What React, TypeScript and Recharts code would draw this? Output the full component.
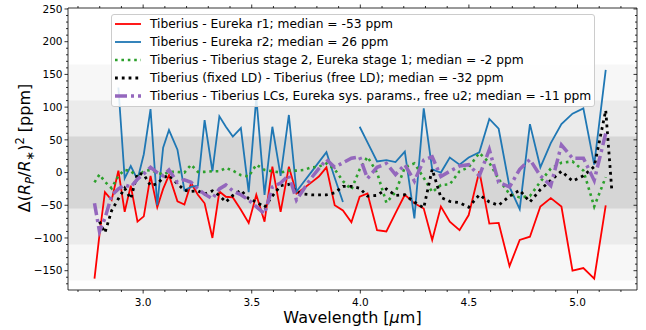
import React from 'react';
import { LineChart, Line, XAxis, YAxis, ReferenceArea, Legend } from 'recharts';

// spectral bins, µm
const WAVELENGTH = [
  2.776, 2.799, 2.824, 2.855, 2.886, 2.915, 2.943, 2.974, 3.003, 3.034,
  3.065, 3.092, 3.119, 3.158, 3.19, 3.221, 3.252, 3.283, 3.319, 3.351,
  3.381, 3.413, 3.45, 3.486, 3.521, 3.559, 3.595, 3.633, 3.671, 3.706,
  3.74, 3.775, 3.809, 3.844, 3.882, 3.92, 3.959, 3.997, 4.033, 4.077,
  4.12, 4.162, 4.205, 4.249, 4.292, 4.331, 4.371, 4.412, 4.457, 4.499,
  4.548, 4.594, 4.637, 4.687, 4.734, 4.781, 4.829, 4.877, 4.926, 4.977,
  5.027, 5.077, 5.13,
];
// the fixed-LD comparison runs one bin further
const WAVELENGTH_LD = [...WAVELENGTH, 5.158];

// differences in ppm
const EUREKA_R1 = [
  -162, -95, -30, -42, 3, -60, -20, -75, -67, -5,
  -53, -25, -4, -44, -49, -16, -34, -47, -100, -29,
  -37, -38, -57, -77, -34, -75, 9, -60, 9, -32,
  -24, -15, -6, 8, -50, -58, -76, -37, -32, -88,
  -90, -62, -34, -47, -55, -103, -52, -75, -88, -65,
  2, -78, -77, -143, -103, -98, -52, -39, -52, -150,
  -146, -162, -50,
];
const EUREKA_R2 = [
  null, null, null, null, 130, -9, 10, -11, 28, 97,
  -50, 38, 65, 35, -27, -22, -20, 80, 2, 86,
  70, 55, 68, -30, 115, -34, 70, -5, 88, -29,
  -14, 1, 16, 31, -8, -45, null, 70, 46, 17,
  19, 16, 32, -70, 98, 5, 0, 23, 12, 23,
  31, 82, 67, -22, -56, 74, 8, 45, 74, 90,
  98, 12, 157,
];
const STAGE2 = [
  -15, -3, -14, -24, -5, 4, 2, -6, 2, 4,
  0, -3, 1, 1, 0, 12, 1, 1, 2, 2,
  7, 3, -4, -6, 12, 4, 2, 0, 3, 3,
  4, 8, 9, 14, 5, -13, -26, 5, 24, 0,
  -46, -30, 8, 14, -8, -30, -19, -18, 2, 8,
  30, 15, -10, -33, -38, -36, -14, 6, 15, 17,
  3, -52, -7,
];
const FIXED_LD = [
  null, -75, -92, -58, -40, -24, -40, -1, -3, -20,
  -17, -8, -4, -17, -27, -29, -28, -33, -28, -35,
  -45, -35, -27, -40, -45, -53, -36, -20, -18, -29,
  -33, -34, -34, -34, -31, -21, -21, -24, -36, -35,
  -25, -35, -34, -45, -54, 5, -38, -44, -46, -53,
  -34, -45, -50, -36, -27, -45, -26, -12, 2, -13,
  -5, 9, 95, -27,
];
const FREE_U2 = [
  -47, -90, -70, -35, -25, -19, -22, -10, -2, 8,
  0, -5, 4, -15, -11, -15, -25, -33, -40, -25,
  -19, -28, -34, -42, -52, -63, -22, -16, -4, -42,
  -25, -8, 6, 20, 8, 15, 22, 24, -9, 8,
  14, -3, 12, -13, 19, 24, -6, 2, 10, 12,
  -5, 35, -15, -22, 5, 20, -5, -20, 42, 22,
  22, -12, 60,
];

const SERIES_NAMES = [
  'Tiberius - Eureka r1; median = -53 ppm',
  'Tiberius - Eureka r2; median = 26 ppm',
  'Tiberius - Tiberius stage 2, Eureka stage 1; median = -2 ppm',
  'Tiberius (fixed LD) - Tiberius (free LD); median = -32 ppm',
  'Tiberius - Tiberius LCs, Eureka sys. params., free u2; median = -11 ppm',
];

const X_TICKS = [2.7, 2.8, 2.9, 3.0, 3.1, 3.2, 3.3, 3.4, 3.5, 3.6, 3.7, 3.8, 3.9, 4.0, 4.1, 4.2, 4.3, 4.4, 4.5, 4.6, 4.7, 4.8, 4.9, 5.0, 5.1, 5.2];
const X_MAJOR = [3.0, 3.5, 4.0, 4.5, 5.0];
const Y_TICKS = [
  -170, -160, -150, -140, -130, -120, -110, -100, -90, -80, -70, -60, -50, -40, -30, -20, -10, 0,
  10, 20, 30, 40, 50, 60, 70, 80, 90, 100, 110, 120, 130, 140, 150, 160, 170, 180, 190, 200,
  210, 220, 230, 240, 250,
];
const Y_MAJOR = [-150, -100, -50, 0, 50, 100, 150, 200, 250];

// shaded scatter levels, widest first
const BAND_LEVELS = [165, 110, 55];
const BAND_FILLS = ['#f7f7f7', '#ebebeb', '#d6d6d6'];

const FONT = '"DejaVu Sans", sans-serif';
const X_DOMAIN: [number, number] = [2.654, 5.274];
const Y_DOMAIN: [number, number] = [-179.5, 251.5];

const pairs = (xs: number[], ys: (number | null)[]) => xs.map((x, i) => ({ x, y: ys[i] }));

const SERIES = [
  { name: SERIES_NAMES[0], data: pairs(WAVELENGTH, EUREKA_R1), color: '#ff0000', width: 1.8, dash: undefined },
  { name: SERIES_NAMES[1], data: pairs(WAVELENGTH, EUREKA_R2), color: '#1f77b4', width: 1.8, dash: undefined },
  { name: SERIES_NAMES[2], data: pairs(WAVELENGTH, STAGE2), color: '#2ca02c', width: 2.6, dash: '2.6 3.8' },
  { name: SERIES_NAMES[3], data: pairs(WAVELENGTH_LD, FIXED_LD), color: '#000000', width: 2.8, dash: '2.8 4' },
  { name: SERIES_NAMES[4], data: pairs(WAVELENGTH, FREE_U2), color: '#9467bd', width: 3.5, dash: '12 4 3 4' },
];

const minus = (v: number) => (v < 0 ? '\u2212' + Math.abs(v) : String(v));
const isMajor = (v: number, majors: number[]) => majors.some((m) => Math.abs(m - v) < 1e-6);

// tick line + optional label, drawn by hand so minor ticks can be shorter
function Tick(props: any) {
  const { x, y, payload, side, majors, labelled } = props;
  const v = payload.value;
  const major = isMajor(v, majors);
  const len = major ? 3.5 : 2;
  const st = { stroke: '#000', strokeWidth: 0.8 };
  if (side === 'bottom') {
    return (
      <g>
        <line x1={x} y1={y} x2={x} y2={y + len} {...st} />
        {labelled && major && (
          <text x={x} y={y + 16} textAnchor="middle" fontSize={10.5} fontFamily={FONT} fill="#000">
            {v.toFixed(1)}
          </text>
        )}
      </g>
    );
  }
  if (side === 'top') return <line x1={x} y1={y} x2={x} y2={y - len} {...st} />;
  // right-hand ticks point into the plot
  if (side === 'right') return <line x1={x} y1={y} x2={x - len} y2={y} {...st} />;
  return (
    <g>
      <line x1={x} y1={y} x2={x - len} y2={y} {...st} />
      {labelled && major && (
        <text x={x - 5.5} y={y + 3.8} textAnchor="end" fontSize={10.5} fontFamily={FONT} fill="#000">
          {minus(v)}
        </text>
      )}
    </g>
  );
}

function XTitle() {
  return (
    <text x={352.5} y={323} textAnchor="middle" fontSize={16} fontFamily={FONT} fill="#000">
      Wavelength [<tspan fontStyle="italic">μ</tspan>m]
    </text>
  );
}

function YTitle() {
  return (
    <text transform="translate(30,148) rotate(-90)" textAnchor="middle" fontSize={16} fontFamily={FONT} fill="#000">
      Δ(<tspan fontStyle="italic">R</tspan>
      <tspan fontStyle="italic" fontSize={11.5} dy={3.5}>P</tspan>
      <tspan dy={-3.5}>/</tspan>
      <tspan fontStyle="italic">R</tspan>
      <tspan fontSize={11.5} dy={3.5}>∗</tspan>
      <tspan dy={-3.5}>)</tspan>
      <tspan fontSize={11.5} dy={-6}>2</tspan>
      <tspan dy={6}> [ppm]</tspan>
    </text>
  );
}

function LegendBox() {
  return (
    <div
      style={{
        width: 484,
        height: 93,
        boxSizing: 'border-box',
        border: '1px solid #cccccc',
        borderRadius: 3,
        background: 'rgba(255,255,255,0.85)',
        position: 'relative',
        fontFamily: FONT,
        fontSize: 12.25,
        color: '#000',
      }}
    >
      {SERIES.map((s, i) => (
        <div key={s.name} style={{ position: 'absolute', left: 0, top: i * 18, height: 18, width: 480 }}>
          <svg width={28} height={18} style={{ position: 'absolute', left: 3, top: 0 }}>
            <line x1={0} y1={9} x2={26} y2={9} stroke={s.color} strokeWidth={s.width} strokeDasharray={s.dash} />
          </svg>
          <span style={{ position: 'absolute', left: 38, top: 0, lineHeight: '18px', whiteSpace: 'nowrap' }}>{s.name}</span>
        </div>
      ))}
    </div>
  );
}

export default function App() {
  const axisLine = { stroke: '#000', strokeWidth: 0.8 };
  return (
    <div style={{ position: 'absolute', left: 0, top: 0, width: 646, height: 330, background: '#fff' }}>
      <LineChart width={646} height={330} margin={{ top: 2, right: 3, bottom: 10, left: 8 }}>
        <XAxis
          dataKey="x"
          type="number"
          domain={X_DOMAIN}
          allowDataOverflow
          ticks={X_TICKS}
          interval={0}
          height={30}
          tickSize={0}
          tickMargin={0}
          tickLine={false}
          axisLine={axisLine}
          tick={<Tick side="bottom" majors={X_MAJOR} labelled />}
          label={<XTitle />}
        />
        <XAxis
          xAxisId="top"
          orientation="top"
          dataKey="x"
          type="number"
          domain={X_DOMAIN}
          allowDataOverflow
          ticks={X_TICKS}
          interval={0}
          height={6}
          tickSize={0}
          tickMargin={0}
          tickLine={false}
          axisLine={axisLine}
          tick={<Tick side="top" majors={X_MAJOR} />}
        />
        <YAxis
          type="number"
          domain={Y_DOMAIN}
          allowDataOverflow
          ticks={Y_TICKS}
          interval={0}
          width={60}
          tickSize={0}
          tickMargin={0}
          tickLine={false}
          axisLine={axisLine}
          tick={<Tick side="left" majors={Y_MAJOR} labelled />}
          label={<YTitle />}
        />
        <YAxis
          yAxisId="right"
          orientation="right"
          type="number"
          domain={Y_DOMAIN}
          allowDataOverflow
          ticks={Y_TICKS}
          interval={0}
          width={6}
          tickSize={0}
          tickMargin={0}
          tickLine={false}
          axisLine={axisLine}
          tick={<Tick side="right" majors={Y_MAJOR} />}
        />
        {BAND_LEVELS.map((lvl, i) => (
          <ReferenceArea key={lvl} y1={-lvl} y2={lvl} fill={BAND_FILLS[i]} fillOpacity={1} stroke="none" />
        ))}
        {SERIES.map((s) => (
          <Line
            key={s.name}
            data={s.data}
            dataKey="y"
            name={s.name}
            type="linear"
            stroke={s.color}
            strokeWidth={s.width}
            strokeDasharray={s.dash}
            dot={false}
            activeDot={false}
            connectNulls={false}
            isAnimationActive={false}
          />
        ))}
        <Legend
          layout="vertical"
          align="center"
          verticalAlign="middle"
          wrapperStyle={{ left: 111, top: 14, width: 484, height: 93 }}
          content={() => <LegendBox />}
        />
      </LineChart>
    </div>
  );
}
